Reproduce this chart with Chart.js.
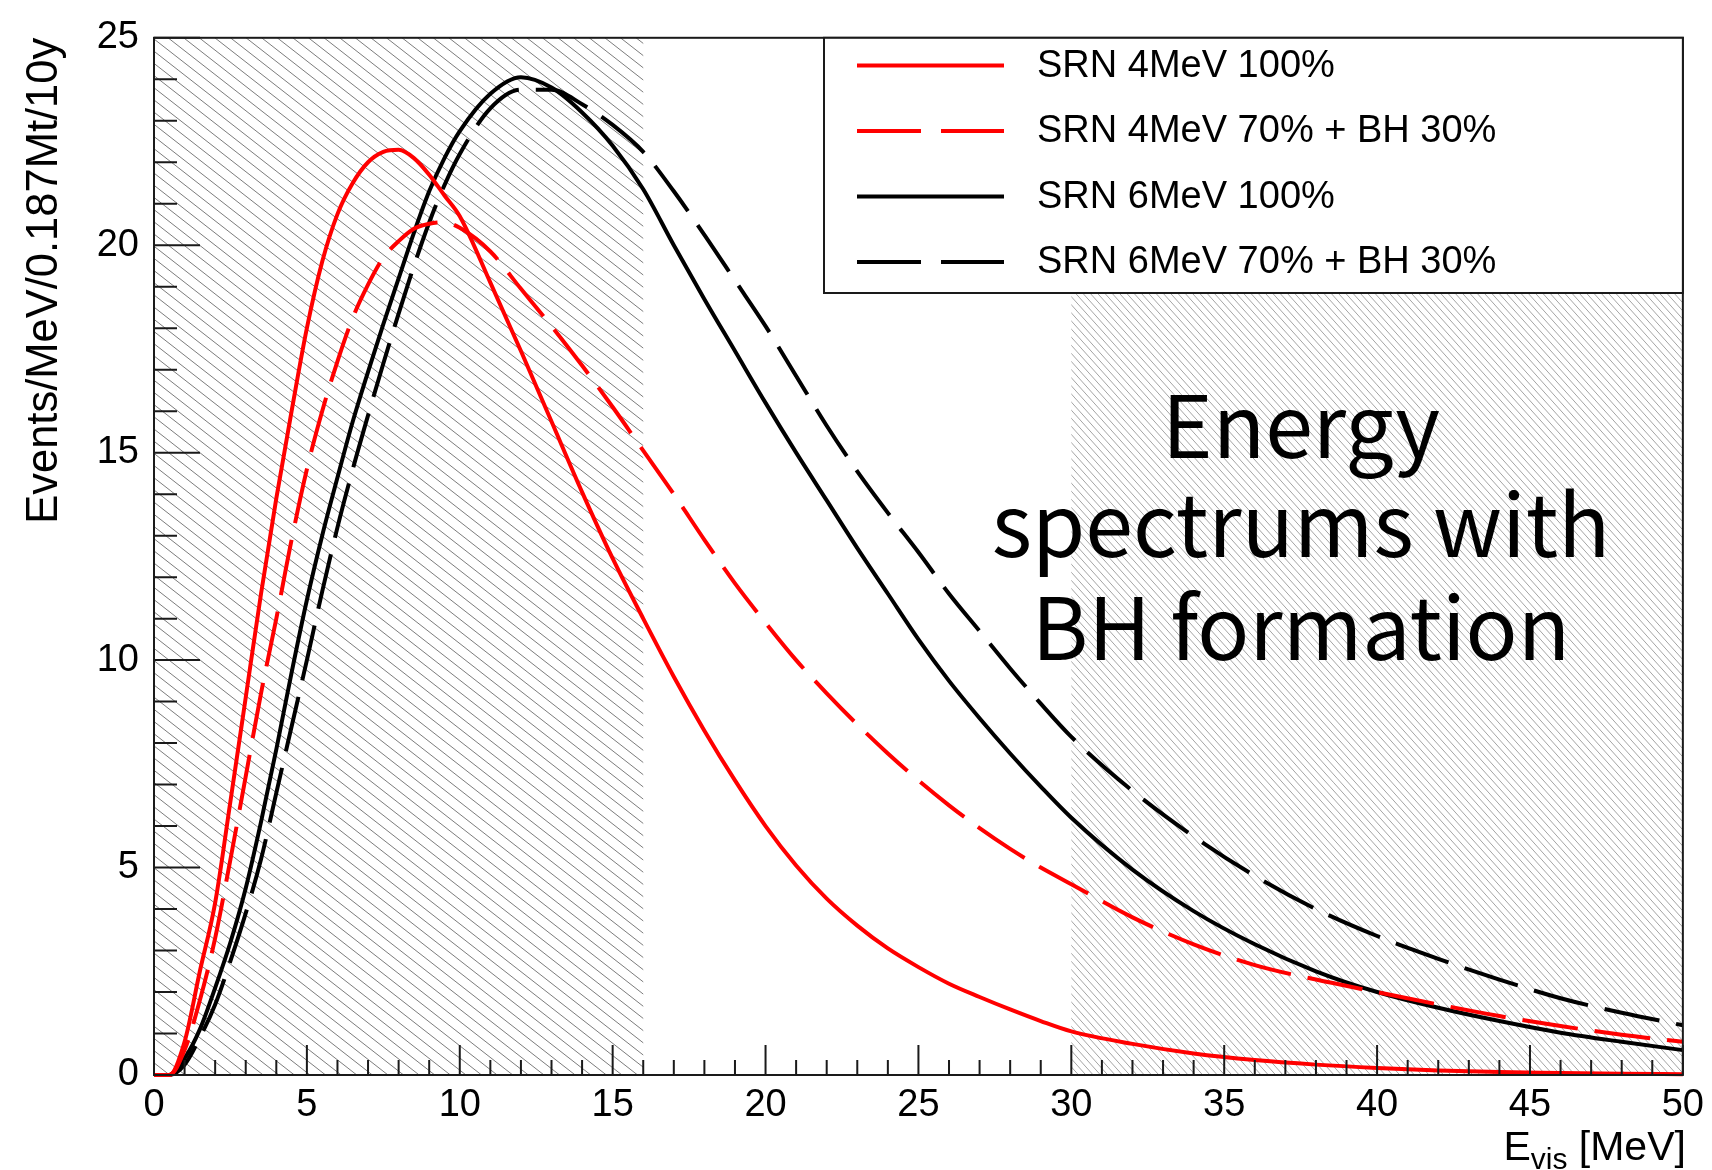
<!DOCTYPE html>
<html>
<head>
<meta charset="utf-8">
<script src="https://cdn.jsdelivr.net/npm/chart.js@4/dist/chart.umd.min.js"></script>
<style>
  body { margin: 0; background: #fff; }
  canvas { display: block; }
</style>
</head>
<body>
<canvas id="spectrum" width="1712" height="1170"></canvas>
<script>
// E_vis [MeV] sample points shared by all curves
const energies = [0, 0.5, 1, 1.5, 2, 2.5, 3, 3.5, 4, 4.5, 5, 5.5, 6, 6.5, 7, 7.5, 8, 8.5, 9, 9.5, 10,
  11, 12, 13, 14, 15, 16, 17, 18, 19, 20, 21, 22, 23, 24, 25, 26, 27, 28, 29, 30,
  32, 34, 36, 38, 40, 42, 44, 46, 48, 50];

// Events/MeV/0.187Mt/10y
const srn4 = [0, 0, 0.8, 2.5, 4.15, 6.6, 9.1, 11.6, 13.9, 16.0, 18.0, 19.6, 20.75, 21.5, 22.0, 22.25, 22.3, 22.1, 21.7, 21.2, 20.7,
  19.1, 17.45, 15.75, 14.05, 12.45, 11.0, 9.6, 8.3, 7.1, 6.0, 5.05, 4.25, 3.6, 3.05, 2.6, 2.2, 1.88, 1.58, 1.3, 1.05,
  0.75, 0.52, 0.36, 0.25, 0.17, 0.11, 0.07, 0.05, 0.03, 0.02];
const srn4bh = [0, 0, 0.6, 1.8, 3.3, 5.2, 7.2, 9.2, 11.0, 12.9, 14.6, 16.0, 17.2, 18.25, 19.05, 19.7, 20.1, 20.4, 20.52, 20.55, 20.42,
  19.85, 18.95, 18.05, 17.1, 16.1, 15.05, 14.0, 12.9, 11.85, 10.9, 10.0, 9.2, 8.45, 7.75, 7.1, 6.5, 5.95, 5.45, 5.0, 4.6,
  3.8, 3.15, 2.65, 2.3, 2.0, 1.7, 1.42, 1.18, 0.97, 0.8];
const srn6 = [0, 0, 0.4, 1.1, 2.1, 3.2, 4.5, 6.1, 7.85, 9.7, 11.45, 13.0, 14.4, 15.75, 16.95, 18.1, 19.2, 20.3, 21.3, 22.1, 22.75,
  23.65, 24.05, 23.8, 23.2, 22.4, 21.35, 20.0, 18.7, 17.45, 16.2, 15.0, 13.85, 12.7, 11.6, 10.5, 9.5, 8.6, 7.75, 6.95, 6.2,
  4.95, 3.95, 3.15, 2.5, 2.0, 1.62, 1.3, 1.02, 0.8, 0.6];
const srn6bh = [0, 0, 0.25, 0.9, 1.7, 2.75, 3.9, 5.2, 6.8, 8.4, 10.0, 11.65, 13.2, 14.6, 15.9, 17.15, 18.35, 19.5, 20.55, 21.45, 22.2,
  23.3, 23.75, 23.75, 23.4, 22.9, 22.25, 21.3, 20.25, 19.15, 18.05, 16.85, 15.65, 14.55, 13.55, 12.6, 11.6, 10.7, 9.8, 8.95, 8.15,
  6.85, 5.75, 4.8, 4.0, 3.35, 2.8, 2.3, 1.85, 1.5, 1.2];

const seriesLabels = ['SRN 4MeV 100%', 'SRN 4MeV 70% + BH 30%', 'SRN 6MeV 100%', 'SRN 6MeV 70% + BH 30%'];
const hatchBands = [[0, 16], [30, 50]];
const noteLines = ['Energy', 'spectrums with', 'BH formation'];
const xTitle = ['E', 'vis', ' [MeV]'];
const yTitle = 'Events/MeV/0.187Mt/10y';

const SANS = '"Liberation Sans", Arial, Helvetica, sans-serif';
const RED = '#ff0000';
const BLACK = '#000000';
const DASH = [56, 17];

const hatchStyles = [
    { gap: 15.6, angle: 38, color: 'rgba(80,80,80,0.75)', width: 1.0 },
    { gap: 7.3, angle: 48, color: 'rgba(120,120,120,0.75)', width: 0.9 }
];

function points(values) {
    return energies.map((e, i) => ({ x: e, y: values[i] }));
}

const lineStyles = [
    { color: RED, dash: [] },
    { color: RED, dash: DASH },
    { color: BLACK, dash: [] },
    { color: BLACK, dash: DASH }
];

const rootStyle = {
    id: 'rootStyle',
    beforeDatasetsDraw(chart) {
        const { ctx, chartArea: a, scales: { x } } = chart;
        hatchBands.forEach(([from, to], i) => {
            const st = hatchStyles[i];
            const x0 = x.getPixelForValue(from);
            const x1 = x.getPixelForValue(to);
            const h = a.bottom - a.top;
            const k = 1 / Math.tan(st.angle * Math.PI / 180);
            ctx.save();
            ctx.beginPath();
            ctx.rect(x0, a.top, x1 - x0, h);
            ctx.clip();
            ctx.strokeStyle = st.color;
            ctx.lineWidth = st.width;
            ctx.beginPath();
            for (let c = x0 - h * k - st.gap; c < x1 + st.gap; c += st.gap) {
                ctx.moveTo(c, a.top);
                ctx.lineTo(c + h * k, a.bottom);
            }
            ctx.stroke();
            ctx.restore();
        });
    },
    afterDraw(chart) {
        const { ctx, chartArea: a, scales: { x, y } } = chart;
        ctx.save();

        // frame
        ctx.strokeStyle = '#1a1a1a';
        ctx.lineWidth = 2;
        ctx.strokeRect(a.left, a.top, a.right - a.left, a.bottom - a.top);

        // inward ticks
        ctx.beginPath();
        for (let v = 0; v <= 50; v++) {
            const px = x.getPixelForValue(v);
            ctx.moveTo(px, a.bottom);
            ctx.lineTo(px, a.bottom - (v % 5 === 0 ? 30 : 15));
        }
        for (let v = 0; v <= 25; v++) {
            const py = y.getPixelForValue(v);
            ctx.moveTo(a.left, py);
            ctx.lineTo(a.left + (v % 5 === 0 ? 46 : 23), py);
        }
        ctx.stroke();

        // axis titles
        ctx.fillStyle = '#000';
        ctx.textBaseline = 'alphabetic';
        ctx.textAlign = 'right';
        ctx.font = '41px ' + SANS;
        let xr = a.right + 3;
        ctx.fillText(xTitle[2], xr, 1160);
        xr -= ctx.measureText(xTitle[2]).width;
        ctx.font = '30px ' + SANS;
        ctx.fillText(xTitle[1], xr, 1169);
        xr -= ctx.measureText(xTitle[1]).width;
        ctx.font = '41px ' + SANS;
        ctx.fillText(xTitle[0], xr, 1160);

        ctx.save();
        ctx.translate(57, a.top);
        ctx.rotate(-Math.PI / 2);
        ctx.font = '43.5px ' + SANS;
        ctx.textAlign = 'right';
        ctx.fillText(yTitle, 0, 0);
        ctx.restore();

        // note text
        ctx.font = '86px "Noto Sans CJK JP", "Noto Sans", sans-serif';
        ctx.textAlign = 'center';
        [458, 557, 660].forEach((by, i) => ctx.fillText(noteLines[i], 1301, by));

        // legend
        const lx0 = 824, ly0 = a.top, lx1 = a.right, ly1 = 293;
        ctx.fillStyle = '#fff';
        ctx.fillRect(lx0, ly0, lx1 - lx0, ly1 - ly0);
        ctx.strokeStyle = '#1a1a1a';
        ctx.lineWidth = 2;
        ctx.strokeRect(lx0, ly0, lx1 - lx0, ly1 - ly0);
        const rows = [65.5, 131, 196.5, 262];
        ctx.font = '38px ' + SANS;
        ctx.textAlign = 'left';
        ctx.textBaseline = 'middle';
        seriesLabels.forEach((label, i) => {
            ctx.strokeStyle = lineStyles[i].color;
            ctx.lineWidth = 4;
            ctx.setLineDash(lineStyles[i].dash.length ? [64, 20] : []);
            ctx.beginPath();
            ctx.moveTo(857, rows[i]);
            ctx.lineTo(1004, rows[i]);
            ctx.stroke();
            ctx.setLineDash([]);
            ctx.fillStyle = '#000';
            ctx.fillText(label, 1037, rows[i] + 1);
        });

        ctx.restore();
    }
};

new Chart(document.getElementById('spectrum').getContext('2d'), {
    type: 'line',
    data: {
        datasets: [srn4, srn4bh, srn6, srn6bh].map((values, i) => ({
            label: seriesLabels[i],
            data: points(values),
            borderColor: lineStyles[i].color,
            borderDash: lineStyles[i].dash,
            borderWidth: 4,
            pointRadius: 0,
            cubicInterpolationMode: 'monotone',
            fill: false,
            clip: false
        }))
    },
    options: {
        responsive: false,
        animation: false,
        layout: { padding: { top: 33, right: 25, left: 0, bottom: 0 } },
        plugins: { legend: { display: false }, tooltip: { enabled: false } },
        scales: {
            x: {
                type: 'linear', min: 0, max: 50,
                grid: { display: false, drawTicks: false },
                border: { display: false },
                ticks: { stepSize: 5, padding: 8, color: '#000', maxRotation: 0, font: { size: 38, family: SANS } },
                afterFit: (s) => { s.height = 95; }
            },
            y: {
                min: 0, max: 25,
                grid: { display: false, drawTicks: false },
                border: { display: false },
                ticks: { stepSize: 5, padding: 15, color: '#000', font: { size: 38, family: SANS } },
                afterFit: (s) => { s.width = 154; }
            }
        }
    },
    plugins: [rootStyle]
});
</script>
</body>
</html>
